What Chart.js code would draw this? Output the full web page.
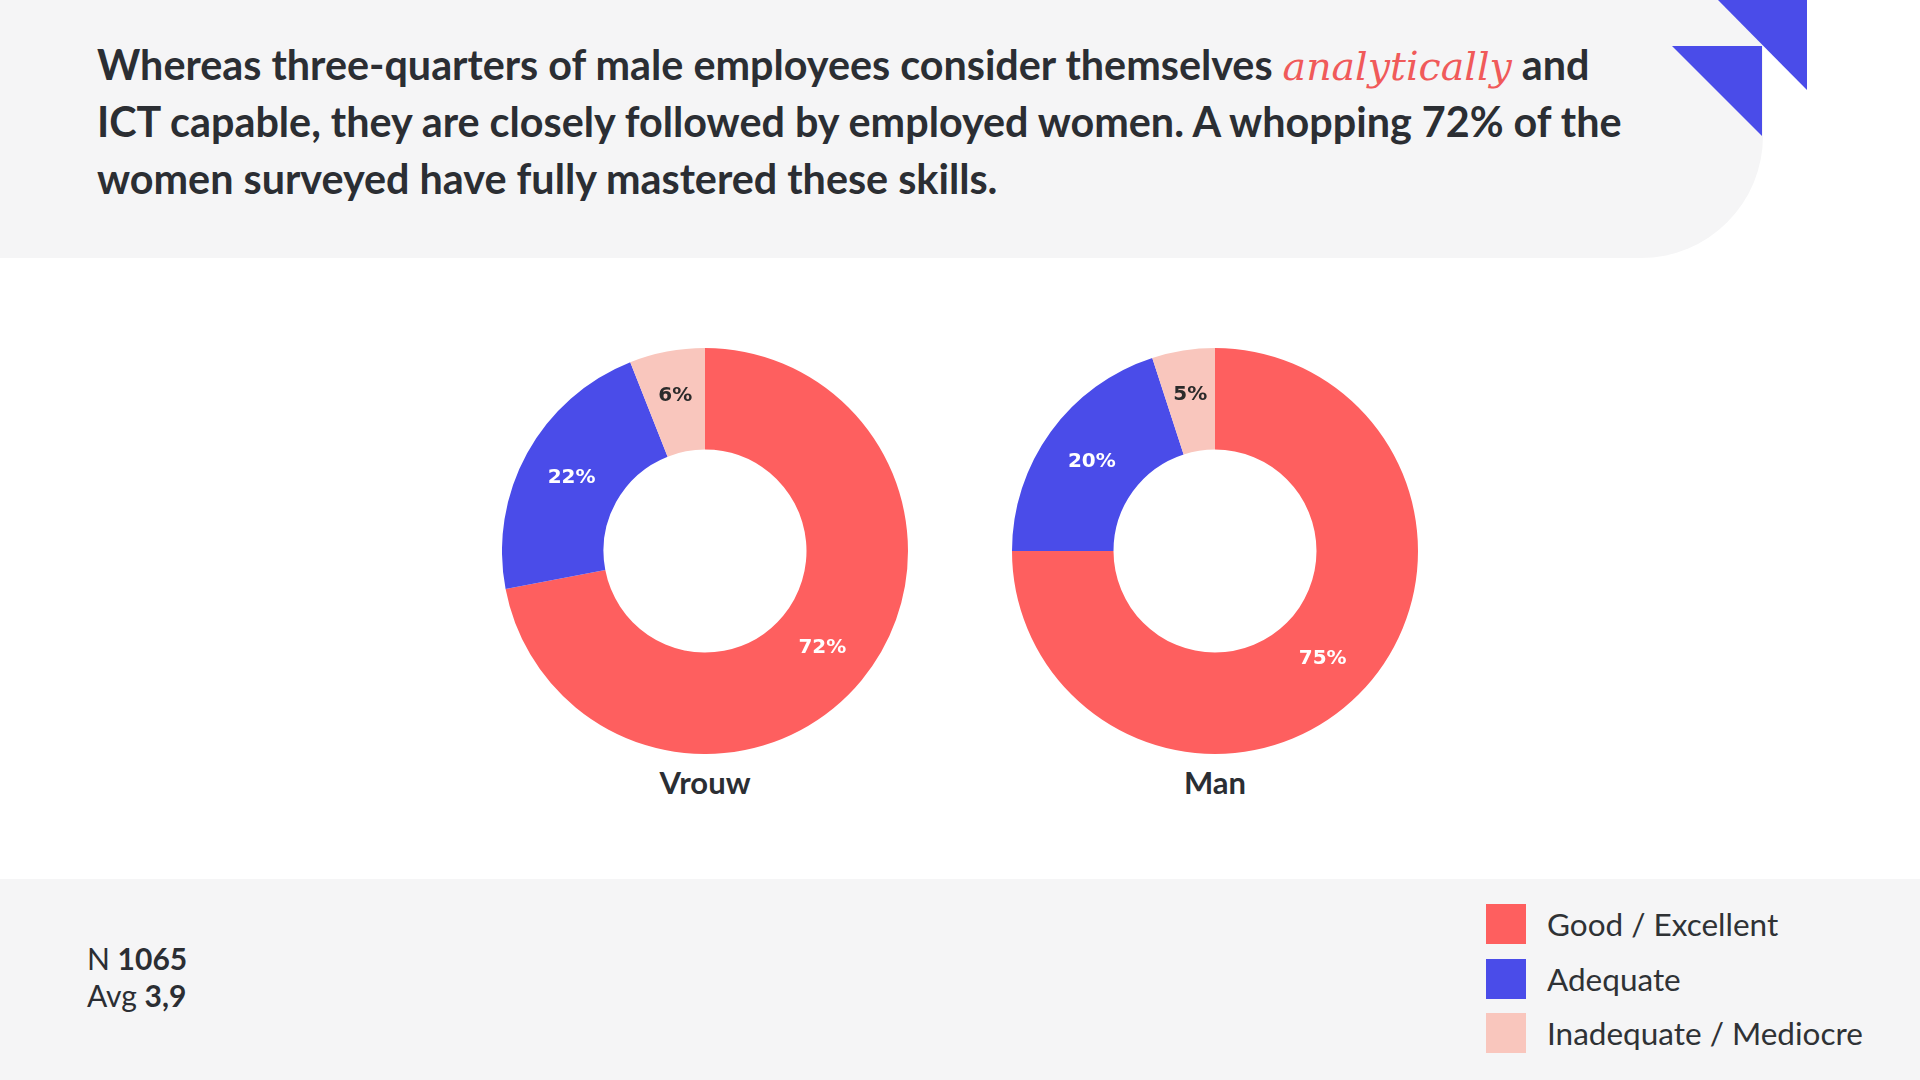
<!DOCTYPE html>
<html>
<head>
<meta charset="utf-8">
<script src="https://cdn.jsdelivr.net/npm/chart.js@4.4.1/dist/chart.umd.min.js"></script>
<style>
  html, body { margin: 0; padding: 0; }
  body { width: 1920px; height: 1080px; position: relative; background: #ffffff; overflow: hidden; font-family: Lato, "Noto Sans", sans-serif; color: #2b2e33; }
  #header { position: absolute; left: 0; top: 0; width: 1763px; height: 258px; background: #f5f5f6; border-bottom-right-radius: 122px; }
  #headline { position: absolute; left: 97px; top: 36px; font-size: 41.3px; line-height: 56.8px; font-weight: 700; white-space: nowrap; color: #2b2e33; }
  #headline em { font-family: "DejaVu Serif", serif; font-style: italic; font-weight: 400; color: #f05a5a; font-size: 39.5px; line-height: 0; }
  #deco { position: absolute; left: 0; top: 0; }
  .donut { position: absolute; }
  .glabel { position: absolute; width: 300px; text-align: center; font-size: 31px; font-weight: 700; line-height: 36px; color: #2b2e33; }
  #footer { position: absolute; left: 0; top: 879px; width: 1920px; height: 201px; background: #f5f5f6; }
  #stats { position: absolute; left: 87px; top: 940px; font-size: 30px; line-height: 37px; color: #2b2e33; }
  #stats b { font-weight: 700; }
  #legend { position: absolute; left: 1486px; top: 904px; }
  .litem { position: absolute; left: 0; height: 40px; white-space: nowrap; }
  .lsw { position: absolute; left: 0; top: 0; width: 40px; height: 40px; }
  .ltx { position: absolute; left: 61px; top: 0; font-size: 31.5px; line-height: 40px; color: #2f3235; }
</style>
</head>
<body>
<div id="header"></div>
<svg id="deco" width="1920" height="260">
  <polygon points="1718,0 1807,0 1807,90" fill="#4a4ce9"/>
  <polygon points="1672,46 1762,46 1762,136" fill="#4a4ce9"/>
</svg>
<div id="headline">Whereas three-quarters of male employees consider themselves <em>analytically</em> and<br>ICT capable, they are closely followed by employed women. A whopping 72% of the<br>women surveyed have fully mastered these skills.</div>

<canvas id="c0" class="donut" width="406" height="406" style="left:502px;top:348px;width:406px;height:406px"></canvas>
<canvas id="c1" class="donut" width="406" height="406" style="left:1012px;top:348px;width:406px;height:406px"></canvas>
<div id="g0" class="glabel" style="left:555px;top:764px"></div>
<div id="g1" class="glabel" style="left:1065px;top:764px"></div>

<div id="footer"></div>
<div id="stats"></div>
<div id="legend"></div>

<script>
// ---- data ----
const groups = ['Vrouw', 'Man'];
const categories = ['Good / Excellent', 'Adequate', 'Inadequate / Mediocre'];
const vrouwValues = [72, 22, 6];
const manValues = [75, 20, 5];
const sliceColors = ['#fe5f5f', '#4a4ce9', '#f9c6bd'];
const labelColors = ['#ffffff', '#ffffff', '#2b2b2b'];
const sampleSize = '1065';
const averageScore = '3,9';

const seriesByGroup = [vrouwValues, manValues];

const pctLabels = {
  id: 'pctLabels',
  afterDatasetsDraw(chart) {
    const ctx = chart.ctx;
    const meta = chart.getDatasetMeta(0);
    const data = chart.data.datasets[0].data;
    ctx.save();
    ctx.font = 'bold 20px "DejaVu Sans", sans-serif';
    ctx.textAlign = 'center';
    ctx.textBaseline = 'middle';
    meta.data.forEach((arc, i) => {
      const p = arc.getProps(['x', 'y', 'startAngle', 'endAngle', 'innerRadius', 'outerRadius']);
      const mid = (p.startAngle + p.endAngle) / 2;
      // small slices: label sits a little further out, as in the reference
      const frac = data[i] < 10 ? 0.78 : 0.75;
      const r = p.outerRadius * frac;
      ctx.fillStyle = labelColors[i];
      ctx.fillText(data[i] + '%', p.x + Math.cos(mid) * r, p.y + Math.sin(mid) * r);
    });
    ctx.restore();
  }
};

Chart.defaults.font.family = 'Lato, sans-serif';

groups.forEach((g, gi) => {
  new Chart(document.getElementById('c' + gi), {
    type: 'doughnut',
    data: {
      labels: categories,
      datasets: [{
        data: seriesByGroup[gi],
        backgroundColor: sliceColors,
        borderWidth: 0,
        hoverOffset: 0,
        offset: 0
      }]
    },
    options: {
      responsive: false,
      animation: false,
      devicePixelRatio: 1,
      cutout: '50%',
      layout: { padding: 0 },
      plugins: { legend: { display: false }, tooltip: { enabled: false } },
      events: []
    },
    plugins: [pctLabels]
  });
  document.getElementById('g' + gi).textContent = g;
});

document.getElementById('stats').innerHTML = 'N <b>' + sampleSize + '</b><br>Avg <b>' + averageScore + '</b>';

const legend = document.getElementById('legend');
categories.forEach((c, i) => {
  const item = document.createElement('div');
  item.className = 'litem';
  item.style.top = (i * 54.5) + 'px';
  item.innerHTML = '<div class="lsw" style="background:' + sliceColors[i] + '"></div><div class="ltx">' + c + '</div>';
  legend.appendChild(item);
});
</script>
</body>
</html>
